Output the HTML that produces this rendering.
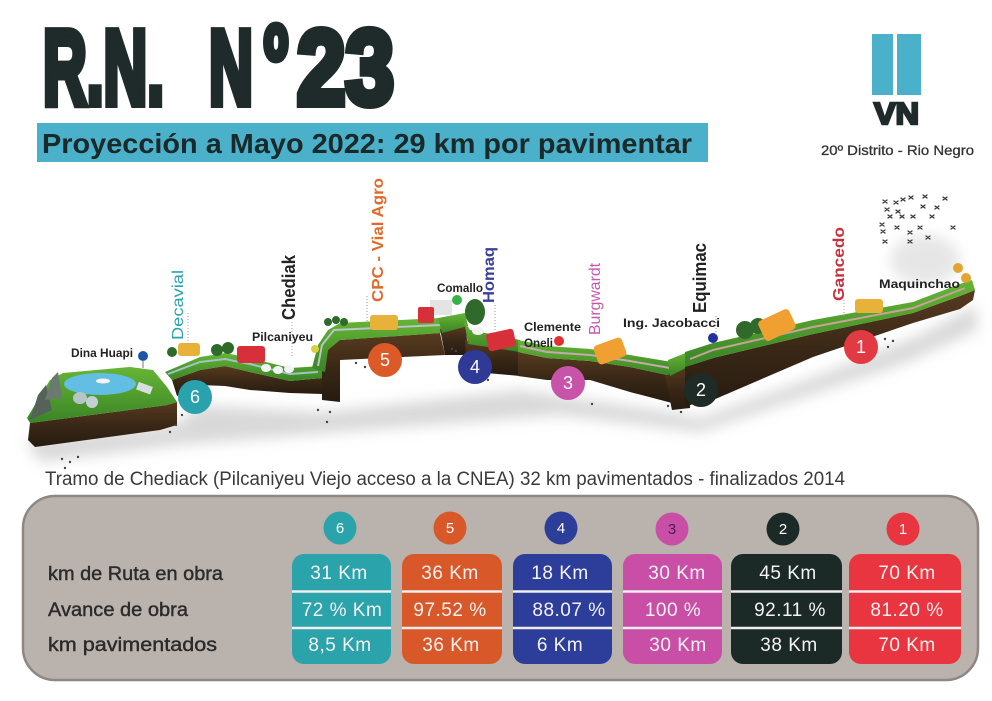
<!DOCTYPE html>
<html><head><meta charset="utf-8"><style>
html,body{margin:0;padding:0;background:#fff;}
svg{display:block;}
text{font-family:"Liberation Sans",sans-serif;}
</style></head><body>
<svg width="992" height="701" viewBox="0 0 992 701" xmlns="http://www.w3.org/2000/svg">
<defs>
<filter id="blur8" x="-20%" y="-50%" width="140%" height="200%"><feGaussianBlur stdDeviation="7"/></filter>
<linearGradient id="soil" x1="0" y1="0" x2="0" y2="1"><stop offset="0" stop-color="#583b20"/><stop offset="0.5" stop-color="#3a2816"/><stop offset="1" stop-color="#261b10"/></linearGradient>
<linearGradient id="grass" x1="0" y1="0" x2="0" y2="1"><stop offset="0" stop-color="#66b535"/><stop offset="1" stop-color="#3a8426"/></linearGradient>
</defs>
<rect width="992" height="701" fill="#ffffff"/>

<!-- Title -->
<g fill="#1e2b2a" stroke="#1e2b2a" stroke-width="8" stroke-linejoin="miter" font-weight="bold">
<text x="43" y="104" font-size="106" textLength="121" lengthAdjust="spacingAndGlyphs">R.N.</text>
<text x="209" y="104" font-size="106" textLength="44" lengthAdjust="spacingAndGlyphs">N</text>
<text x="264" y="59" font-size="62" textLength="24" lengthAdjust="spacingAndGlyphs">o</text>
<text x="297" y="104" font-size="106" textLength="97" lengthAdjust="spacingAndGlyphs">23</text>
</g>

<!-- Banner -->
<rect x="37" y="123" width="671" height="39" fill="#4bb1cb"/>
<text x="42" y="153" font-size="28" font-weight="bold" fill="#1a2929" textLength="650" lengthAdjust="spacingAndGlyphs">Proyección a Mayo 2022: 29 km por pavimentar</text>

<!-- Logo -->
<rect x="872" y="34" width="21" height="61" fill="#4bb1cb"/>
<rect x="897" y="34" width="24" height="61" fill="#4bb1cb"/>
<text x="874" y="124" font-size="31" font-weight="bold" fill="#1e2b2a" stroke="#1e2b2a" stroke-width="2.5" textLength="45" lengthAdjust="spacingAndGlyphs">VN</text>
<text x="821" y="155" font-size="14" fill="#333" stroke="#333" stroke-width="0.3" textLength="153" lengthAdjust="spacingAndGlyphs">20º Distrito - Rio Negro</text>

<!-- Shadow -->
<polygon points="25,440 175,425 200,405 320,412 340,410 520,390 670,412 700,418 820,375 920,335 975,305 978,330 900,365 700,432 560,415 340,432 180,445 40,462" fill="#b9b9b9" opacity="0.55" filter="url(#blur8)"/>
<ellipse cx="925" cy="260" rx="35" ry="25" fill="#e6e6e6" filter="url(#blur8)"/>

<!-- Lake block -->
<polygon points="30,423 167,405 177,402 177,425 160,430 35,447 28,440" fill="url(#soil)"/>
<polygon points="27,418 50,380 63,373 130,367 153,370 167,387 177,402 167,405 30,423" fill="url(#grass)"/>
<ellipse cx="100" cy="384" rx="36" ry="11" fill="#62bfe3"/>
<ellipse cx="103" cy="381" rx="7" ry="2.5" fill="#f4f4f4"/>
<polygon points="30,420 38,395 46,385 52,410" fill="#55625a"/>
<polygon points="45,400 52,378 58,372 62,398" fill="#6b7a70"/>
<ellipse cx="80" cy="398" rx="7" ry="6" fill="#b8c4c8"/>
<ellipse cx="92" cy="402" rx="6" ry="6" fill="#c4d0d4"/>
<rect x="137" y="384" width="15" height="8" fill="#d8dde0" transform="rotate(20 144 388)"/>
<circle cx="143" cy="356" r="5" fill="#1d56a8"/>
<line x1="143" y1="360" x2="143" y2="368" stroke="#777" stroke-width="1"/>

<!-- Segment A -->
<polygon points="172,380 200,370 225,366 250,372 290,381 322,378 322,394 290,393 250,390 225,386 200,385 177,396" fill="url(#soil)"/>
<polygon points="165,372 200,357 225,353 250,358 290,368 322,366 322,378 290,381 250,372 225,366 200,370 172,380" fill="url(#grass)"/>
<polyline points="168,374 200,362 225,359 250,364 290,374 318,372" fill="none" stroke="#9fc4c6" stroke-width="2"/>
<!-- CPC segment -->
<polygon points="322,352 340,340 440,333 445,355 340,360 340,402 322,400" fill="url(#soil)"/>
<polygon points="312,368 318,345 328,330 340,323 440,318 442,333 340,340 328,350 325,372" fill="url(#grass)"/>
<polyline points="318,366 322,345 334,330 440,325" fill="none" stroke="#b9c4c6" stroke-width="2"/>
<!-- Comallo block -->
<polygon points="440,329 466,326 468,355 445,355" fill="url(#soil)"/>
<polygon points="438,318 465,313 468,326 442,333" fill="url(#grass)"/>
<!-- Homaq segment -->
<polygon points="465,340 520,352 520,376 475,372 466,357" fill="url(#soil)"/>
<polygon points="464,320 470,330 520,340 520,352 468,344" fill="url(#grass)"/>
<!-- Segment D -->
<polygon points="518,352 547,358 590,361 630,367 672,376 672,403 630,392 590,380 547,380 518,376" fill="url(#soil)"/>
<polygon points="518,340 547,346 590,349 630,355 672,362 672,376 630,367 590,361 547,358 518,352" fill="url(#grass)"/>
<polyline points="520,346 547,352 590,355 630,361 670,368" fill="none" stroke="#c8a8b0" stroke-width="2"/>
<!-- Notch -->
<polygon points="665,376 690,366 690,408 672,410" fill="url(#soil)"/>
<polygon points="668,360 688,352 690,366 670,376" fill="url(#grass)"/>
<!-- Segment E -->
<polygon points="685,367 713,358 813,334 913,313 960,296 975,290 973,300 960,309 913,323 813,357 713,400 685,406" fill="url(#soil)"/>
<polygon points="685,352 713,343 813,320 913,302 960,284 972,280 975,290 960,296 913,313 813,334 713,358 685,367" fill="url(#grass)"/>
<polyline points="690,359 713,350 813,327 913,308 965,288" fill="none" stroke="#c9a29a" stroke-width="2"/>

<!-- Trees -->
<g fill="#2f6a2a">
<circle cx="217" cy="350" r="6"/><circle cx="228" cy="348" r="6"/>
<circle cx="172" cy="352" r="5"/>
<circle cx="328" cy="322" r="4"/><circle cx="336" cy="320" r="4"/><circle cx="344" cy="322" r="4"/>
<ellipse cx="475" cy="312" rx="10" ry="13"/>
<circle cx="745" cy="330" r="9"/><circle cx="758" cy="326" r="8"/>
</g>
<g fill="#e3a432"><circle cx="958" cy="268" r="5"/><circle cx="966" cy="278" r="5"/></g>
<!-- Vehicles -->
<rect x="178" y="343" width="22" height="13" rx="3" fill="#e8b23a"/>
<rect x="237" y="346" width="28" height="17" rx="3" fill="#d8303a"/>
<g fill="#f2f2f2"><ellipse cx="266" cy="368" rx="5" ry="4"/><ellipse cx="278" cy="370" rx="5" ry="4"/><ellipse cx="289" cy="369" rx="5" ry="4"/><ellipse cx="478" cy="331" rx="6" ry="4"/></g>
<circle cx="315" cy="349" r="4" fill="#d8d040"/>
<rect x="370" y="315" width="28" height="15" rx="3" fill="#e7b13a"/>
<rect x="430" y="300" width="22" height="15" fill="#e4e4e4"/>
<rect x="418" y="307" width="16" height="16" rx="2" fill="#d8303a"/>
<rect x="487" y="331" width="28" height="18" rx="3" fill="#d8303a" transform="rotate(-12 501 340)"/>
<rect x="595" y="341" width="30" height="20" rx="4" fill="#f0a030" transform="rotate(-20 610 351)"/>
<rect x="760" y="314" width="34" height="22" rx="4" fill="#f0a030" transform="rotate(-25 777 325)"/>
<rect x="855" y="299" width="28" height="14" rx="3" fill="#e8b23a"/>
<!-- Pins -->
<circle cx="457" cy="300" r="5" fill="#3ab04a"/>
<circle cx="559" cy="341" r="5" fill="#e03030"/>
<circle cx="713" cy="338" r="5" fill="#2030a0"/>
<!-- Dotted leaders -->
<g stroke="#999" stroke-width="1" stroke-dasharray="1,2">
<line x1="188" y1="313" x2="188" y2="345"/>
<line x1="292" y1="322" x2="292" y2="358"/>
<line x1="367" y1="296" x2="367" y2="328"/>
<line x1="495" y1="305" x2="495" y2="335"/>
<line x1="716" y1="316" x2="716" y2="335"/>
<line x1="844" y1="300" x2="844" y2="318"/>
</g>
<g fill="#444">
<circle cx="62" cy="459" r="1.2"/><circle cx="70" cy="462" r="1.2"/><circle cx="78" cy="457" r="1.2"/><circle cx="65" cy="468" r="1.2"/>
<circle cx="182" cy="415" r="1.2"/><circle cx="176" cy="425" r="1.2"/><circle cx="170" cy="432" r="1.2"/>
<circle cx="318" cy="410" r="1.2"/><circle cx="330" cy="412" r="1.2"/><circle cx="327" cy="422" r="1.2"/>
<circle cx="356" cy="363" r="1.2"/><circle cx="365" cy="367" r="1.2"/><circle cx="452" cy="349" r="1.2"/><circle cx="456" cy="351" r="1.2"/>
<circle cx="488" cy="380" r="1.2"/><circle cx="592" cy="404" r="1.2"/><circle cx="668" cy="406" r="1.2"/><circle cx="681" cy="412" r="1.2"/>
<circle cx="885" cy="339" r="1.2"/><circle cx="893" cy="341" r="1.2"/><circle cx="888" cy="347" r="1.2"/>
</g>
<!-- Birds -->
<g stroke="#3a3a3a" stroke-width="1.3" fill="none" stroke-linecap="round">
<path d="M883,200l4,3M887,200l-4,3M894,201l4,3M898,201l-4,3M901,198l4,3M905,198l-4,3M909,196l4,3M913,196l-4,3M923,195l4,3M927,195l-4,3M943,197l4,3M947,197l-4,3M885,208l4,3M889,208l-4,3M896,210l4,3M900,210l-4,3M921,205l4,3M925,205l-4,3M935,206l4,3M939,206l-4,3M888,215l4,3M892,215l-4,3M900,215l4,3M904,215l-4,3M911,215l4,3M915,215l-4,3M930,215l4,3M934,215l-4,3M880,223l4,3M884,223l-4,3M895,226l4,3M899,226l-4,3M918,226l4,3M922,226l-4,3M951,226l4,3M955,226l-4,3M881,230l4,3M885,230l-4,3M908,231l4,3M912,231l-4,3M883,240l4,3M887,240l-4,3M908,240l4,3M912,240l-4,3M926,236l4,3M930,236l-4,3"/>
</g>

<!-- Map labels -->
<g font-weight="bold" fill="#222" font-size="12">
<text x="71" y="357" textLength="62" lengthAdjust="spacingAndGlyphs">Dina Huapi</text>
<text x="252" y="341" textLength="61" lengthAdjust="spacingAndGlyphs">Pilcaniyeu</text>
<text x="437" y="292" textLength="46" lengthAdjust="spacingAndGlyphs">Comallo</text>
<text x="524" y="331" textLength="57" lengthAdjust="spacingAndGlyphs">Clemente</text>
<text x="524" y="347" textLength="29" lengthAdjust="spacingAndGlyphs">Oneli</text>
<text x="623" y="327" textLength="97" lengthAdjust="spacingAndGlyphs">Ing. Jacobacci</text>
<text x="879" y="288" textLength="81" lengthAdjust="spacingAndGlyphs">Maquinchao</text>
</g>
<g font-size="16">
<text transform="translate(183,340) rotate(-90)" fill="#2aa3ad" textLength="70" lengthAdjust="spacingAndGlyphs">Decavial</text>
<text transform="translate(295,320) rotate(-90)" fill="#222" font-weight="bold" font-size="18" textLength="65" lengthAdjust="spacingAndGlyphs">Chediak</text>
<text transform="translate(383,302) rotate(-90)" fill="#e06a2a" font-weight="bold" textLength="124" lengthAdjust="spacingAndGlyphs">CPC - Vial Agro</text>
<text transform="translate(494,303) rotate(-90)" fill="#3a409a" font-weight="bold" textLength="56" lengthAdjust="spacingAndGlyphs">Homaq</text>
<text transform="translate(600,335) rotate(-90)" fill="#c658b0" textLength="72" lengthAdjust="spacingAndGlyphs">Burgwardt</text>
<text transform="translate(706,313) rotate(-90)" fill="#222" font-weight="bold" font-size="18" textLength="70" lengthAdjust="spacingAndGlyphs">Equimac</text>
<text transform="translate(844,301) rotate(-90)" fill="#c8303d" font-weight="bold" textLength="74" lengthAdjust="spacingAndGlyphs">Gancedo</text>
</g>

<!-- Map circles -->
<g font-size="18" fill="#fff" text-anchor="middle">
<circle cx="195" cy="397" r="17" fill="#2aa2ad"/><text x="195" y="403" fill="#fff">6</text>
<circle cx="385" cy="360" r="17" fill="#dc5a28"/><text x="385" y="366" fill="#fff">5</text>
<circle cx="475" cy="367" r="17" fill="#2f3a96"/><text x="475" y="373" fill="#fff">4</text>
<circle cx="568" cy="383" r="17" fill="#c754a9"/><text x="568" y="389" fill="#fff">3</text>
<circle cx="701" cy="390" r="17" fill="#1e2b27"/><text x="701" y="396" fill="#fff">2</text>
<circle cx="861" cy="347" r="17" fill="#e23a43"/><text x="861" y="353" fill="#fff">1</text>
</g>

<!-- Tramo text -->
<text x="45" y="485" font-size="19" fill="#3a3a3a" textLength="800" lengthAdjust="spacingAndGlyphs">Tramo de Chediack (Pilcaniyeu Viejo acceso a la CNEA) 32 km pavimentados - finalizados 2014</text>

<!-- Table panel -->
<rect x="23" y="496" width="955" height="184" rx="32" fill="#bab2ac" stroke="#8e8782" stroke-width="2.5"/>
<g font-size="19" fill="#2b2b2b" stroke="#2b2b2b" stroke-width="0.4">
<text x="48" y="580" textLength="175" lengthAdjust="spacingAndGlyphs">km de Ruta en obra</text>
<text x="48" y="616" textLength="140" lengthAdjust="spacingAndGlyphs">Avance de obra</text>
<text x="48" y="651" textLength="169" lengthAdjust="spacingAndGlyphs">km pavimentados</text>
</g>

<g>
<rect x="292" y="554" width="99" height="110" rx="12" fill="#2aa3ab"/>
<rect x="402" y="554" width="100" height="110" rx="12" fill="#d9582a"/>
<rect x="513" y="554" width="99" height="110" rx="12" fill="#2d3e9a"/>
<rect x="623" y="554" width="99" height="110" rx="12" fill="#c94fa6"/>
<rect x="731" y="554" width="111" height="110" rx="12" fill="#1c2a27"/>
<rect x="849" y="554" width="112" height="110" rx="12" fill="#e8353f"/>
</g>
<g stroke="#f0eeee" stroke-width="2.5">
<line x1="292" y1="591.5" x2="391" y2="591.5"/><line x1="292" y1="628" x2="391" y2="628"/>
<line x1="402" y1="591.5" x2="502" y2="591.5"/><line x1="402" y1="628" x2="502" y2="628"/>
<line x1="513" y1="591.5" x2="612" y2="591.5"/><line x1="513" y1="628" x2="612" y2="628"/>
<line x1="623" y1="591.5" x2="722" y2="591.5"/><line x1="623" y1="628" x2="722" y2="628"/>
<line x1="731" y1="591.5" x2="842" y2="591.5"/><line x1="731" y1="628" x2="842" y2="628"/>
<line x1="849" y1="591.5" x2="961" y2="591.5"/><line x1="849" y1="628" x2="961" y2="628"/>
</g>
<g font-size="19" fill="#f4f2f2" text-anchor="middle" letter-spacing="0.5">
<text x="339" y="579">31 Km</text><text x="342" y="616">72 % Km</text><text x="340" y="651">8,5 Km</text>
<text x="450" y="579">36 Km</text><text x="450" y="616">97.52 %</text><text x="451" y="651">36 Km</text>
<text x="560" y="579">18 Km</text><text x="569" y="616">88.07 %</text><text x="560" y="651">6 Km</text>
<text x="677" y="579">30 Km</text><text x="673" y="616">100 %</text><text x="678" y="651">30 Km</text>
<text x="788" y="579">45 Km</text><text x="790" y="616">92.11 %</text><text x="789" y="651">38 Km</text>
<text x="907" y="579">70 Km</text><text x="907" y="616">81.20 %</text><text x="907" y="651">70 Km</text>
</g>
<g font-size="15" text-anchor="middle">
<circle cx="340" cy="528" r="16.5" fill="#2aa3ab"/><text x="340" y="533" fill="#fff">6</text>
<circle cx="450" cy="528" r="16.5" fill="#d9582a"/><text x="450" y="533" fill="#fff">5</text>
<circle cx="561" cy="528" r="16.5" fill="#2d3e9a"/><text x="561" y="533" fill="#fff">4</text>
<circle cx="672" cy="529" r="16.5" fill="#c94fa6"/><text x="672" y="534" fill="#4a1c5a">3</text>
<circle cx="783" cy="529" r="16.5" fill="#1c2a27"/><text x="783" y="534" fill="#fff">2</text>
<circle cx="903" cy="529" r="16.5" fill="#e8353f"/><text x="903" y="534" fill="#fff">1</text>
</g>
</svg>
</body></html>
